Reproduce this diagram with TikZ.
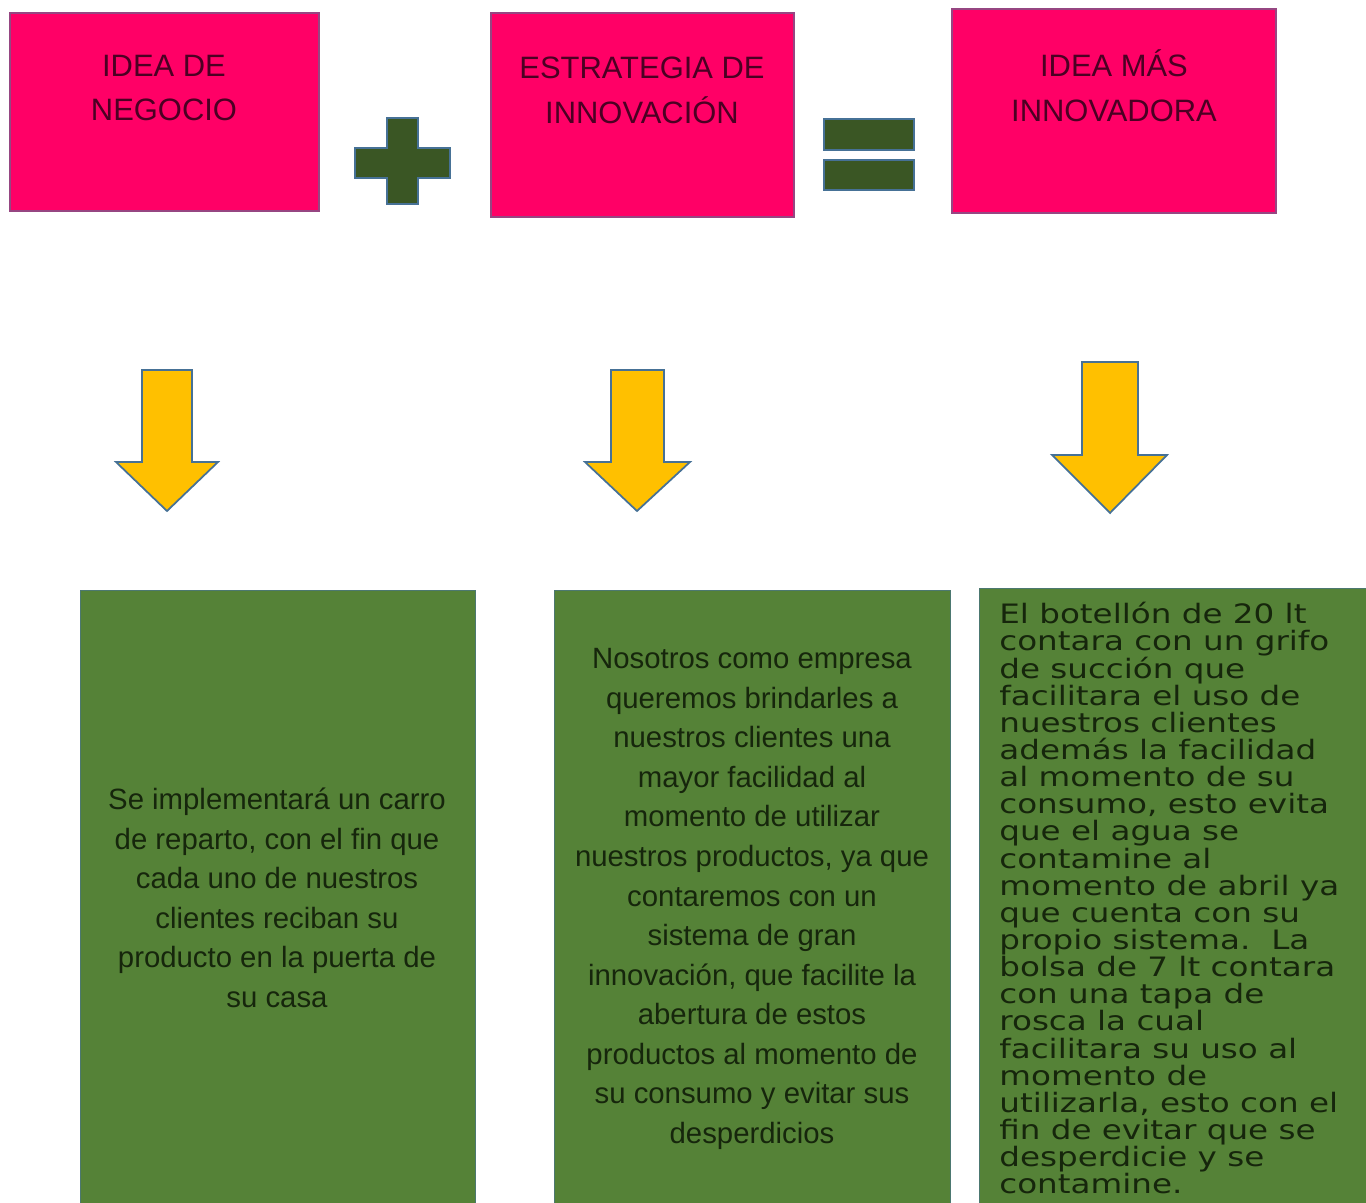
\documentclass[tikz,border=0pt]{standalone}
\usepackage{fontspec}
\setmainfont{Liberation Sans}
\newfontfamily\widefont[FakeStretch=1.22]{DejaVu Sans}
\usetikzlibrary{positioning}

\definecolor{rosa}{RGB}{255,0,102}
\definecolor{rosaborde}{RGB}{150,70,130}
\definecolor{rosatexto}{RGB}{75,0,35}
\definecolor{verdeoscuro}{RGB}{58,86,36}
\definecolor{verdecaja}{RGB}{85,130,55}
\definecolor{verdetexto}{RGB}{22,38,12}
\definecolor{azulborde}{RGB}{70,113,150}
\definecolor{amarillo}{RGB}{255,192,0}

\tikzset{
  titulo/.style={draw=rosaborde, fill=rosa, line width=0.8pt, inner sep=0pt},
  titulotexto/.style={text=rosatexto, align=center, font=\fontsize{17.6}{25.5}\selectfont},
  signo/.style={draw=azulborde, fill=verdeoscuro, line width=1pt},
  flecha/.style={draw=azulborde, fill=amarillo, line width=1pt, line join=miter},
  caja/.style={draw=azulborde!60!verdecaja, fill=verdecaja, line width=0.8pt, inner sep=0pt, anchor=north west},
  cajatexto/.style={text=verdetexto, align=center, font=\fontsize{16.7}{22.5}\selectfont}
}

\begin{document}
\begin{tikzpicture}[x=0.02cm, y=-0.02cm]
    \useasboundingbox (0,0) rectangle (1366,1203);

    % Top row: title boxes
    \node[titulo, minimum width=6.18cm, minimum height=3.96cm] (idea) at (164.5,112) {};
    \node[titulo, minimum width=6.06cm, minimum height=4.08cm] (estrategia) at (642.5,115) {};
    \node[titulo, minimum width=6.48cm, minimum height=4.08cm] (innovadora) at (1114,111) {};
    \node[titulotexto] (ideaT) at (164,88) {IDEA DE\\NEGOCIO};
    \node[titulotexto] (estrategiaT) at (642,90) {ESTRATEGIA DE\\INNOVACIÓN};
    \node[titulotexto] (innovadoraT) at (1114,86) {IDEA MÁS\\INNOVADORA};

    % Plus and equals signs
    \draw[signo] (387,118) -- (418,118) -- (418,148) -- (450,148) -- (450,178) -- (418,178)
        -- (418,204) -- (387,204) -- (387,178) -- (355,178) -- (355,148) -- (387,148) -- cycle;
    \draw[signo] (824,119) rectangle (914,150);
    \draw[signo] (824,160) rectangle (914,190);

    % Down arrows
    \draw[flecha] (142,370) -- (192,370) -- (192,462) -- (218,462) -- (167,511) -- (116,462) -- (142,462) -- cycle;
    \draw[flecha] (611,370) -- (664,370) -- (664,462) -- (690,462) -- (637,511) -- (585,462) -- (611,462) -- cycle;
    \draw[flecha] (1082,362) -- (1138,362) -- (1138,455) -- (1167,455) -- (1110,513) -- (1052,455) -- (1082,455) -- cycle;

    % Bottom row: description boxes
    \node[caja, minimum width=7.9cm, minimum height=12.4cm] (reparto) at (80,590) {};
    \node[caja, minimum width=7.92cm, minimum height=12.4cm] (empresa) at (554,590) {};
    \node[caja, minimum width=7.8cm, minimum height=12.4cm] (botellon) at (979,588) {};

    \node[cajatexto] (repartoT) at (277,898) {Se implementará un carro\\de reparto, con el fin que\\cada uno de nuestros\\clientes reciban su\\producto en la puerta de\\su casa};
    \node[cajatexto] (empresaT) at (752,899) {Nosotros como empresa\\queremos brindarles a\\nuestros clientes una\\mayor facilidad al\\momento de utilizar\\nuestros productos, ya que\\contaremos con un\\sistema de gran\\innovación, que facilite la\\abertura de estos\\productos al momento de\\su consumo y evitar sus\\desperdicios};
    \node[text=verdetexto, align=left, inner sep=0pt, anchor=north west,
          font={\widefont\fontsize{15.2}{15.45}\selectfont\lineskiplimit=-100pt\relax}] (botellonT) at (999,602)
        {El botellón de 20 lt\\contara con un grifo\\de succión que\\facilitara el uso de\\nuestros clientes\\además la facilidad\\al momento de su\\consumo, esto evita\\que el agua se\\contamine al\\momento de abril ya\\que cuenta con su\\propio sistema.\ \ La\\bolsa de 7 lt contara\\con una tapa de\\rosca la cual\\facilitara su uso al\\momento de\\utilizarla, esto con el\\fin de evitar que se\\desperdicie y se\\contamine.};

\end{tikzpicture}
\end{document}
